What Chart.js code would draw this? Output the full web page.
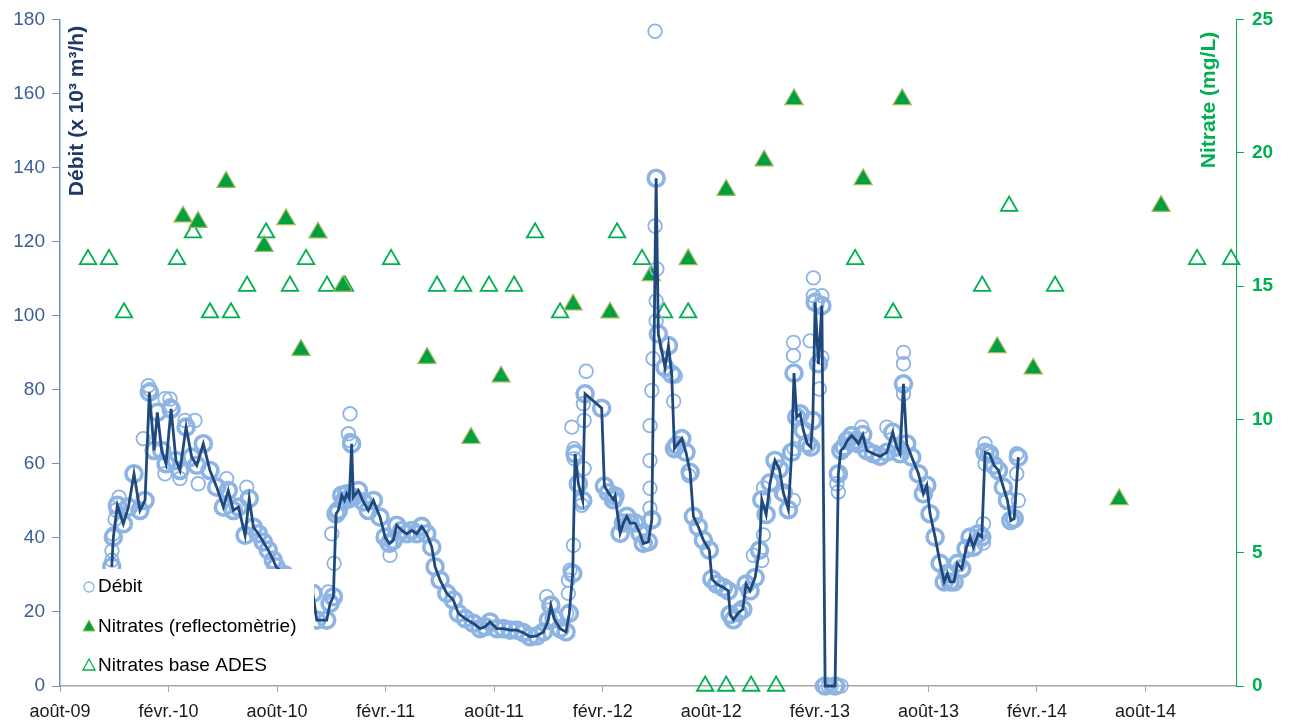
<!DOCTYPE html>
<html lang="fr">
<head>
<meta charset="utf-8">
<title>Débit et nitrates</title>
<script src="https://cdn.jsdelivr.net/npm/chart.js@4.4.0/dist/chart.umd.min.js"></script>
<style>
  html, body { margin: 0; padding: 0; background: #ffffff; }
  canvas { display: block; }
</style>
</head>
<body>
<canvas id="myChart" width="1290" height="722"></canvas>
<script>
// x values are months counted from août-09 (0 = 1 Aug 2009)
const tickMonths = [0, 6, 12, 18, 24, 30, 36, 42, 48, 54, 60];
const tickLabels = ['août-09', 'févr.-10', 'août-10', 'févr.-11', 'août-11', 'févr.-12',
                    'août-12', 'févr.-13', 'août-13', 'févr.-14', 'août-14'];

// Débit (x 10³ m³/h) - the dark line, also drawn as circles
const debitMonths = [
  2.86, 2.95, 3.17, 3.50, 3.78, 4.09, 4.42, 4.70, 4.94, 5.20,
  5.38, 5.62, 5.86, 6.14, 6.41, 6.63, 6.97, 7.28, 7.56, 7.92,
  8.29, 8.66, 9.03, 9.30, 9.58, 9.86, 10.23, 10.46, 10.69, 10.96,
  11.24, 11.51, 11.79, 11.94, 12.44, 12.99, 13.54, 13.98, 14.19, 14.74,
  14.93, 15.11, 15.26, 15.38, 15.57, 15.72, 15.85, 15.99, 16.12, 16.21,
  16.49, 16.77, 17.04, 17.32, 17.69, 17.97, 18.20, 18.42, 18.61, 18.89,
  19.17, 19.44, 19.72, 19.99, 20.27, 20.55, 20.73, 21.01, 21.38, 21.74,
  22.02, 22.39, 22.85, 23.22, 23.49, 23.77, 24.14, 24.51, 24.88, 25.25,
  25.61, 25.98, 26.35, 26.72, 26.99, 27.13, 27.31, 27.64, 27.97, 28.15,
  28.34, 28.47, 28.65, 28.89, 29.02, 29.94, 30.09, 30.31, 30.59, 30.68,
  30.96, 31.14, 31.33, 31.51, 31.79, 32.06, 32.24, 32.52, 32.71, 32.95,
  33.07, 33.44, 33.63, 33.81, 33.96, 34.09, 34.37, 34.60, 34.83, 35.01,
  35.28, 35.56, 35.89, 36.03, 36.30, 36.67, 36.94, 37.04, 37.22, 37.50,
  37.74, 37.92, 38.14, 38.42, 38.66, 38.79, 39.03, 39.25, 39.52, 39.76,
  39.98, 40.26, 40.44, 40.57, 40.72, 40.91, 41.09, 41.31, 41.50, 41.61,
  41.74, 41.92, 42.11, 42.29, 42.84, 43.02, 43.16, 43.34, 43.52, 43.76,
  44.00, 44.13, 44.37, 44.59, 44.96, 45.33, 45.70, 46.03, 46.25, 46.43,
  46.62, 46.80, 47.08, 47.45, 47.72, 47.91, 48.09, 48.37, 48.65, 48.87,
  49.05, 49.20, 49.42, 49.60, 49.84, 50.08, 50.30, 50.49, 50.76, 50.95,
  51.13, 51.37, 51.63, 51.87, 52.14, 52.37, 52.55, 52.74, 52.97
];
const debitValues = [
  32.2, 40.2, 48.8, 43.8, 48.3, 57.3, 47.4, 50.1, 79.3, 63.6,
  73.9, 63.6, 60.0, 74.8, 60.9, 58.2, 69.9, 61.8, 59.6, 65.4,
  58.2, 53.7, 48.3, 52.8, 47.4, 48.3, 40.7, 50.6, 42.9, 41.1,
  38.9, 36.7, 34.0, 32.2, 30.0, 28.0, 26.0, 25.0, 17.8, 17.8,
  22.3, 24.1, 46.5, 47.4, 51.5, 50.1, 51.9, 50.6, 65.4, 51.0,
  52.8, 49.7, 47.4, 50.1, 45.6, 40.2, 38.5, 39.3, 43.4, 42.0,
  41.1, 42.0, 41.1, 43.1, 41.1, 37.5, 32.2, 28.6, 25.0, 23.2,
  19.6, 18.2, 16.9, 15.5, 16.0, 17.3, 15.5, 15.5, 15.1, 15.1,
  14.4, 13.3, 13.5, 14.6, 17.8, 21.8, 18.2, 15.5, 14.6, 19.6,
  30.4, 62.7, 54.6, 50.1, 78.9, 75.0, 54.0, 52.2, 50.3, 51.3,
  41.2, 44.0, 45.8, 44.0, 44.0, 41.2, 38.5, 38.9, 44.9, 137.1,
  95.1, 86.0, 91.9, 84.2, 64.1, 65.0, 66.8, 63.1, 57.7, 45.8,
  43.0, 39.4, 36.7, 28.9, 27.5, 26.6, 25.7, 19.3, 17.9, 19.8,
  20.7, 27.5, 25.7, 29.3, 36.7, 50.3, 46.3, 54.9, 60.9, 58.6,
  52.2, 47.6, 63.1, 84.5, 72.6, 73.5, 69.0, 65.4, 64.5, 71.7,
  103.6, 87.0, 102.7, 0, 0, 57.3, 63.6, 64.5, 66.3, 67.6,
  66.3, 65.4, 67.9, 63.6, 62.7, 62.0, 63.1, 68.5, 64.5, 62.7,
  81.6, 65.4, 61.8, 57.3, 51.9, 54.2, 46.5, 40.2, 33.1, 28.1,
  30.4, 28.1, 28.1, 33.1, 31.7, 37.1, 40.2, 37.5, 41.1, 40.2,
  63.1, 62.7, 59.6, 58.2, 53.7, 50.1, 44.7, 45.2, 61.8
];

// Débit circles lying away from the line
const debitExtraMonths = [
  2.87, 2.87, 2.93, 3.04, 3.10, 3.26, 4.60, 4.88, 4.98, 5.80,
  5.80, 6.08, 6.08, 6.63, 6.91, 7.46, 7.64, 9.21, 10.32, 14.83,
  15.02, 15.15, 15.94, 16.03, 16.03, 18.24, 26.90, 27.18, 28.01, 28.10,
  28.10, 28.19, 28.38, 28.29, 28.41, 28.41, 28.84, 28.97, 28.97, 28.93,
  29.08, 32.61, 32.61, 32.61, 32.61, 32.71, 32.78, 32.95, 32.95, 32.99,
  32.89, 32.89, 33.92, 34.01, 34.76, 38.32, 38.79, 38.88, 38.88, 40.01,
  40.54, 40.57, 40.54, 40.54, 41.46, 41.64, 41.64, 42.11, 42.11, 41.97,
  42.12, 42.45, 42.62, 43.00, 43.17, 42.94, 42.94, 43.02, 44.32, 45.70,
  46.62, 46.62, 46.62, 51.04, 51.04, 51.13, 51.13, 52.88, 52.88, 52.97
];
const debitExtraValues = [
  34.0, 36.5, 41.0, 45.0, 47.5, 51.0, 66.8, 81.1, 80.0, 77.6,
  57.3, 77.5, 75.7, 56.0, 71.7, 71.7, 54.6, 56.0, 53.7, 25.4,
  41.1, 33.1, 68.1, 73.5, 66.3, 35.3, 24.1, 22.3, 19.6, 25.0,
  28.6, 31.3, 38.0, 69.9, 64.1, 61.4, 48.8, 58.7, 71.7, 76.2,
  85.0, 48.0, 53.4, 60.9, 70.3, 79.8, 88.4, 98.6, 104.0, 112.6,
  124.2, 176.8, 76.9, 83.7, 56.8, 35.3, 33.9, 40.8, 53.5, 51.7,
  50.1, 64.1, 89.2, 92.8, 93.2, 105.4, 110.2, 105.4, 88.7, 80.2,
  0, 0, 0, 0, 0, 54.6, 57.3, 52.4, 69.9, 69.9,
  78.9, 87.0, 90.1, 38.6, 43.8, 60.0, 65.4, 57.3, 62.7, 50.1
];

// Nitrates (reflectomètrie), mg/L
const reflectoMonths = [
  6.80, 7.63, 9.18, 11.28, 12.49, 13.32, 14.26, 15.64, 20.29, 22.72,
  24.38, 28.36, 30.40, 32.67, 34.72, 36.82, 38.92, 40.57, 44.39, 46.55,
  51.80, 53.79, 58.54, 60.86
];
const reflectoValues = [
  17.6, 17.4, 18.9, 16.5, 17.5, 12.6, 17.0, 15.0, 12.3, 9.3,
  11.6, 14.3, 14.0, 15.4, 16.0, 18.6, 19.7, 22.0, 19.0, 22.0,
  12.7, 11.9, 7.0, 18.0
];

// Nitrates base ADES, mg/L
const adesMonths = [
  1.55, 2.71, 3.54, 6.47, 7.35, 8.29, 9.45, 10.34, 11.39, 12.71,
  13.60, 14.76, 15.75, 18.30, 20.84, 22.28, 23.71, 25.10, 26.26, 27.64,
  30.79, 32.17, 33.39, 34.72, 35.66, 36.82, 38.20, 39.58, 43.95, 46.05,
  50.97, 52.46, 55.00, 62.85, 64.73
];
const adesValues = [
  16, 16, 14, 16, 17, 14, 14, 15, 17, 15,
  16, 15, 15, 16, 15, 15, 15, 15, 17, 14,
  17, 16, 14, 14, 0, 0, 0, 0, 16, 14,
  15, 18, 15, 16, 16
];

function toPoints(xs, ys) {
    return xs.map((x, i) => ({ x: x, y: ys[i] }));
}

const FONT = '"Liberation Sans", Arial, sans-serif';
const BLUE_DARK = '#1F497D';
const BLUE_LIGHT = '#8EB4E3';
const GREEN = '#00B050';

// legend box (drawn on top of the data, like the original) and the axis titles
const overlayPlugin = {
    id: 'overlay',
    afterDraw(chart) {
        const ctx = chart.ctx;
        ctx.save();
        ctx.fillStyle = '#ffffff';
        ctx.fillRect(78, 569, 236, 114);

        ctx.lineWidth = 1.3;
        ctx.strokeStyle = BLUE_LIGHT;
        ctx.beginPath();
        ctx.arc(89, 587, 5, 0, Math.PI * 2);
        ctx.stroke();

        ctx.beginPath();
        ctx.moveTo(89, 620); ctx.lineTo(95, 631); ctx.lineTo(83, 631); ctx.closePath();
        ctx.fillStyle = '#00A040';
        ctx.fill();
        ctx.strokeStyle = '#A5B85A';
        ctx.lineWidth = 1;
        ctx.stroke();

        ctx.beginPath();
        ctx.moveTo(89, 659); ctx.lineTo(95, 670); ctx.lineTo(83, 670); ctx.closePath();
        ctx.strokeStyle = GREEN;
        ctx.lineWidth = 1.3;
        ctx.stroke();

        ctx.fillStyle = '#000000';
        ctx.font = '19px ' + FONT;
        ctx.textAlign = 'left';
        ctx.textBaseline = 'middle';
        ctx.fillText('Débit', 98, 587);
        ctx.fillText('Nitrates (reflectomètrie)', 98, 627);
        ctx.fillText('Nitrates base ADES', 98, 666);

        ctx.font = 'bold 21px ' + FONT;
        ctx.textAlign = 'center';
        ctx.save();
        ctx.translate(77, 111);
        ctx.rotate(-Math.PI / 2);
        ctx.fillStyle = '#1F3864';
        ctx.fillText('Débit (x 10³ m³/h)', 0, 0);
        ctx.restore();

        ctx.save();
        ctx.translate(1209, 100);
        ctx.rotate(-Math.PI / 2);
        ctx.fillStyle = GREEN;
        ctx.fillText('Nitrate (mg/L)', 0, 0);
        ctx.restore();

        ctx.restore();
    }
};

function drawChart() {
    const ctx = document.getElementById('myChart').getContext('2d');
    const nLine = debitMonths.length;
    new Chart(ctx, {
        type: 'scatter',
        data: {
            datasets: [
                {
                    label: 'Débit (ligne)',
                    data: toPoints(debitMonths, debitValues),
                    showLine: true,
                    borderColor: BLUE_DARK,
                    borderWidth: 2.8,
                    pointRadius: 0,
                    tension: 0,
                    yAxisID: 'y',
                    clip: false,
                    order: 0
                },
                {
                    label: 'Débit',
                    data: toPoints(debitMonths.concat(debitExtraMonths), debitValues.concat(debitExtraValues)),
                    pointStyle: 'circle',
                    // circles on the dense band overlap a lot in the original, so they read thicker
                    pointRadius: (c) => c.dataIndex < nLine ? 8 : 6.8,
                    pointBorderWidth: (c) => c.dataIndex < nLine ? 3.6 : 1.8,
                    borderColor: BLUE_LIGHT,
                    backgroundColor: 'rgba(0,0,0,0)',
                    yAxisID: 'y',
                    clip: false,
                    order: 1
                },
                {
                    label: 'Nitrates (reflectomètrie)',
                    data: toPoints(reflectoMonths, reflectoValues),
                    pointStyle: 'triangle',
                    pointRadius: 10.5,
                    pointBorderWidth: 1.2,
                    borderColor: '#A5B85A',
                    backgroundColor: '#00A040',
                    yAxisID: 'y1',
                    clip: false,
                    order: 2
                },
                {
                    label: 'Nitrates base ADES',
                    data: toPoints(adesMonths, adesValues),
                    pointStyle: 'triangle',
                    pointRadius: 9.5,
                    pointBorderWidth: 1.8,
                    borderColor: GREEN,
                    backgroundColor: 'rgba(0,0,0,0)',
                    yAxisID: 'y1',
                    clip: false,
                    order: 3
                }
            ]
        },
        options: {
            responsive: false,
            animation: false,
            devicePixelRatio: 1,
            layout: { padding: { top: 18, left: 0, right: 0, bottom: 0 } },
            plugins: {
                legend: { display: false },
                tooltip: { enabled: false }
            },
            scales: {
                x: {
                    type: 'linear',
                    position: 'bottom',
                    min: 0,
                    max: 65,
                    afterBuildTicks: function(scale) {
                        scale.ticks = tickMonths.map(v => ({ value: v }));
                    },
                    afterFit: function(scale) { scale.height = 36; },
                    ticks: {
                        callback: function(value) {
                            return tickLabels[tickMonths.indexOf(value)];
                        },
                        font: { family: FONT, size: 18 },
                        color: '#1a1a1a',
                        padding: 9,
                        maxRotation: 0,
                        autoSkip: false
                    },
                    grid: { drawOnChartArea: false, tickLength: 6, color: '#A6A6A6' },
                    border: { color: '#A6A6A6', width: 1.5 }
                },
                y: {
                    position: 'left',
                    min: 0,
                    max: 180,
                    afterFit: function(scale) { scale.width = 60; },
                    ticks: {
                        stepSize: 20,
                        font: { family: FONT, size: 19 },
                        color: '#3B5E96',
                        padding: 7
                    },
                    grid: { drawOnChartArea: false, tickLength: 8, color: '#6F8DBE' },
                    border: { color: '#6F8DBE', width: 1.5 }
                },
                y1: {
                    position: 'right',
                    min: 0,
                    max: 25,
                    afterFit: function(scale) { scale.width = 54; },
                    ticks: {
                        stepSize: 5,
                        font: { family: FONT, size: 19, weight: 'bold' },
                        color: GREEN,
                        padding: 8
                    },
                    grid: { drawOnChartArea: false, tickLength: 8, color: GREEN },
                    border: { color: GREEN, width: 1 }
                }
            }
        },
        plugins: [overlayPlugin]
    });
}

drawChart();
</script>
</body>
</html>
